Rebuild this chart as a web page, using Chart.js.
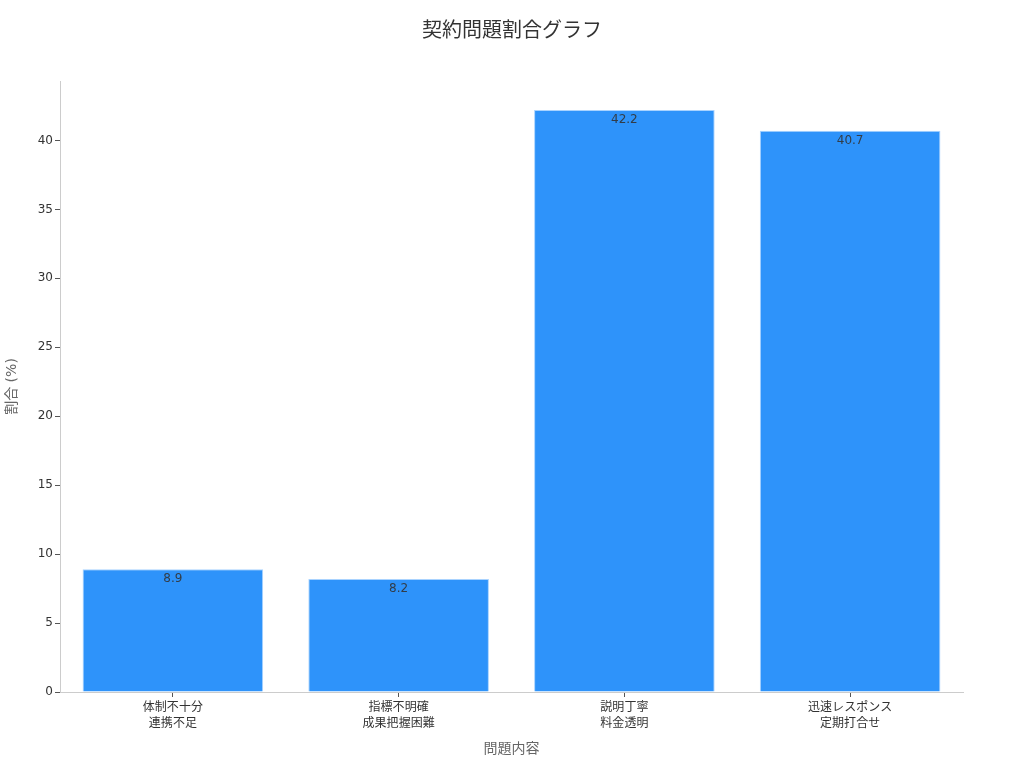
<!DOCTYPE html>
<html>
<head>
<meta charset="utf-8">
<script src="https://cdn.jsdelivr.net/npm/chart.js@4/dist/chart.umd.min.js"></script>
<style>
html,body{margin:0;padding:0;background:#fff;}
#wrap{width:1024px;height:768px;position:relative;}
</style>
</head>
<body>
<div id="wrap"><canvas id="c" width="1024" height="768"></canvas></div>
<script>
const categories = [["体制不十分","連携不足"],["指標不明確","成果把握困難"],["説明丁寧","料金透明"],["迅速レスポンス","定期打合せ"]];
const values = [8.9, 8.2, 42.2, 40.7];
const yTicks = [0,5,10,15,20,25,30,35,40];
const titleText = "契約問題割合グラフ";
const xTitle = "問題内容";
const yTitle = "割合 (%)";

const FONT = "'DejaVu Sans', 'Noto Sans CJK JP', sans-serif";

const valueLabels = {
  id: 'valueLabels',
  afterDatasetsDraw(chart) {
    const ctx = chart.ctx;
    const meta = chart.getDatasetMeta(0);
    ctx.save();
    ctx.font = "12px " + FONT;
    ctx.fillStyle = "rgba(51,51,51,0.9)";
    ctx.textAlign = "center";
    ctx.textBaseline = "middle";
    meta.data.forEach((bar, i) => {
      ctx.fillText(values[i].toFixed(1), bar.x, bar.y + 10);
    });
    ctx.restore();
  }
};

const pageTitle = {
  id: 'pageTitle',
  afterDraw(chart) {
    const ctx = chart.ctx;
    ctx.save();
    ctx.font = "20px " + FONT;
    ctx.fillStyle = "#333";
    ctx.textAlign = "center";
    ctx.textBaseline = "middle";
    ctx.fillText(titleText, 512, 32);
    ctx.restore();
  }
};

new Chart(document.getElementById('c'), {
  type: 'bar',
  data: {
    labels: categories,
    datasets: [{
      data: values,
      backgroundColor: '#2E93FA',
      borderColor: '#A9D3FF',
      borderWidth: 1,
      categoryPercentage: 0.8,
      barPercentage: 1.0
    }]
  },
  options: {
    responsive: false,
    animation: false,
    devicePixelRatio: 1,
    layout: { padding: { top: 81, left: 0, right: 61, bottom: 0 } },
    plugins: {
      legend: { display: false },
      tooltip: { enabled: false },
      title: { display: false }
    },
    scales: {
      x: {
        grid: { display: true, offset: false, drawOnChartArea: false, drawTicks: true, tickLength: 5, tickColor: '#555' },
        border: { display: true, color: '#ccc', width: 1 },
        ticks: { color: '#333', font: { family: FONT, size: 12, lineHeight: 1.3 }, padding: 3, maxRotation: 0, autoSkip: false },
        title: { display: true, text: xTitle, color: '#666', font: { family: FONT, size: 14, lineHeight: 1.2 }, padding: { top: 0, bottom: 10.6 } },
        afterFit(scale) { scale.height = 76; }
      },
      y: {
        min: 0,
        max: Math.max(...values) * 1.05,
        grid: { display: true, drawOnChartArea: false, drawTicks: true, tickLength: 5, tickColor: '#555' },
        border: { display: true, color: '#ccc', width: 1 },
        ticks: { color: '#333', font: { family: FONT, size: 12 }, padding: 2, stepSize: 5 },
        afterBuildTicks(scale) { scale.ticks = yTicks.map(v => ({ value: v })); },
        title: { display: true, text: yTitle, color: '#666', font: { family: FONT, size: 14, lineHeight: 1.2 }, padding: { top: 3.6, bottom: 0 } },
        afterFit(scale) { scale.width = 60; }
      }
    }
  },
  plugins: [valueLabels, pageTitle]
});
</script>
</body>
</html>
